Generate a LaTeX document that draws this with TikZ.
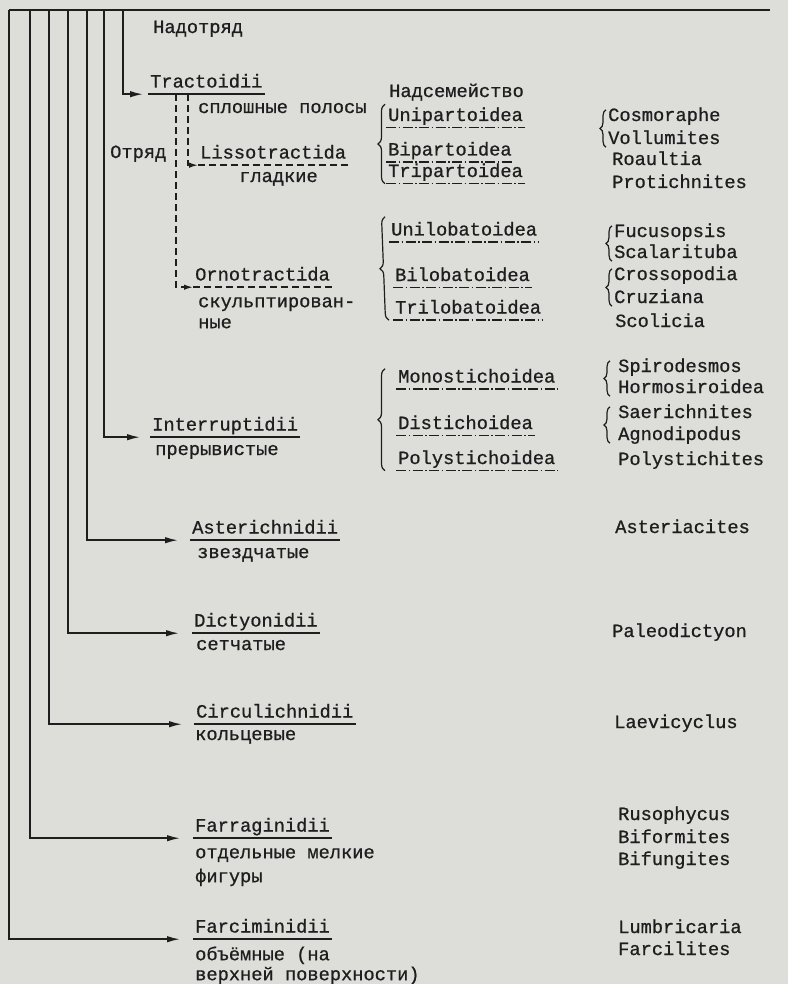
\documentclass[tikz,border=0pt]{standalone}
\usepackage{fontspec}
\setmainfont{Liberation Mono}
\newfontfamily\inkfont{Liberation Mono}[FakeBold=0.8]
\usetikzlibrary{arrows.meta, decorations.pathreplacing}
\definecolor{paper}{RGB}{221,221,217}
\definecolor{ink}{RGB}{30,30,30}

\begin{document}
\begin{tikzpicture}[x=1pt, y=-1pt,
    every node/.style={text=ink, font=\inkfont\fontsize{18.7}{23}\selectfont},
    taxon/.style={anchor=base west, inner xsep=2pt, inner ysep=0pt, text depth=6.5pt},
    rutext/.style={anchor=base west, inner sep=0pt},
    rublock/.style={anchor=north west, inner sep=0pt, align=left},
    genus/.style={anchor=base west, inner sep=0pt, text height=11pt, text depth=3pt},
    branch/.style={draw=ink, line width=1.6pt, -{Latex[length=13pt, width=6.5pt]}},
    dbranch/.style={draw=ink, line width=1.5pt, dash pattern=on 7pt off 4pt,
                    -{Latex[length=9pt, width=5.5pt]}},
    solidline/.style={draw=ink, line width=1.6pt},
    dashline/.style={draw=ink, line width=1.5pt, dash pattern=on 7pt off 4pt},
    dotline/.style={draw=ink, line width=1.5pt, dash pattern=on 10pt off 2.5pt on 1.5pt off 2.5pt},
    sbrace/.style={draw=ink, line width=1.2pt, decorate, decoration={brace, amplitude=7pt}},
    gbrace/.style={draw=ink, line width=1.2pt, decorate, decoration={brace, amplitude=6pt}}
]
\useasboundingbox (0,0) rectangle (788,984);
\fill[paper] (0,0) rectangle (788,984);

% top bar and its branch points
\foreach \x [count=\i] in {9,30,49,68,87,104,123}
  \coordinate (b\i) at (\x,10);
\coordinate (bar end) at (770,10);
\draw[solidline] (b1) -- (bar end);

% orders
\node[rutext] (supord) at (153,33) {Надотряд};
\node[taxon] (tract) at (148,87.5)  {Tractoidii};
\node[taxon] (inter) at (150,430.5) {Interruptidii};
\node[taxon] (aster) at (190,533.5) {Asterichnidii};
\node[taxon] (dict)  at (192,626.5) {Dictyonidii};
\node[taxon] (circ)  at (194,717.5) {Circulichnidii};
\node[taxon] (farr)  at (193,831.5) {Farraginidii};
\node[taxon] (farc)  at (193,932.5) {Farciminidii};

\node[rutext] (tractdesc) at (198,113) {сплошные полосы};
\node[rutext] (interdesc) at (155,455) {прерывистые};
\node[rutext] (asterdesc) at (197,558) {звездчатые};
\node[rutext] (dictdesc)  at (196,650) {сетчатые};
\node[rutext] (circdesc)  at (195,740) {кольцевые};
\node[rublock, font=\inkfont\fontsize{18.7}{24}\selectfont] (farrdesc) at (195,842)
  {\rule{0pt}{16pt}отдельные мелкие\\фигуры};
\node[rublock, font=\inkfont\fontsize{18.7}{20}\selectfont] (farcdesc) at (195,944)
  {\rule{0pt}{16pt}объёмные (на\\верхней поверхности)};

% suborders of Tractoidii
\node[rutext] (ordlab) at (110,158) {Отряд};
\node[taxon] (lisso) at (198,158.5) {Lissotractida};
\node[rutext] (lissodesc) at (239,182) {гладкие};
\node[taxon] (orno) at (193,280.5) {Ornotractida};
\node[rublock, font=\inkfont\fontsize{18.7}{21}\selectfont] (ornodesc) at (198,291)
  {\rule{0pt}{16pt}скульптирован-\\ные};

% superfamilies
\node[rutext] (supfam) at (389,97) {Надсемейство};
\node[taxon] (uni)  at (386,121)   {Unipartoidea};
\node[taxon] (bip)  at (386,155.5) {Bipartoidea};
\node[taxon] (trip) at (386,177)   {Tripartoidea};
\node[taxon] (unil) at (389,235.5) {Unilobatoidea};
\node[taxon] (bil)  at (393,281)   {Bilobatoidea};
\node[taxon] (tril) at (393,313.5) {Trilobatoidea};
\node[taxon] (mono) at (396,382.5) {Monostichoidea};
\node[taxon] (dist) at (396,429)   {Distichoidea};
\node[taxon] (poly) at (396,464)   {Polystichoidea};

% genera
\node[genus] (cosmo)   at (608,121) {Cosmoraphe};
\node[genus] (voll)    at (608,144) {Vollumites};
\node[genus] (roault)  at (612,165) {Roaultia};
\node[genus] (protich) at (612,188) {Protichnites};
\node[genus] (fucus)   at (614,237) {Fucusopsis};
\node[genus] (scal)    at (614,258) {Scalarituba};
\node[genus] (cross)   at (614,280) {Crossopodia};
\node[genus] (cruz)    at (614,303) {Cruziana};
\node[genus] (scol)    at (615,327) {Scolicia};
\node[genus] (spiro)   at (618,372) {Spirodesmos};
\node[genus] (hormo)   at (618,393) {Hormosiroidea};
\node[genus] (saer)    at (618,418) {Saerichnites};
\node[genus] (agno)    at (618,440) {Agnodipodus};
\node[genus] (polyst)  at (618,465) {Polystichites};
\node[genus] (asteriac) at (615,533) {Asteriacites};
\node[genus] (paleo)   at (612,637) {Paleodictyon};
\node[genus] (laevi)   at (614,728) {Laevicyclus};
\node[genus] (ruso)    at (618,820) {Rusophycus};
\node[genus] (bifor)   at (618,843) {Biformites};
\node[genus] (bifun)   at (618,865) {Bifungites};
\node[genus] (lumb)    at (618,933) {Lumbricaria};
\node[genus] (farcil)  at (618,955) {Farcilites};

% underlines
\foreach \n in {tract, inter, aster, dict, circ, farr, farc}
  \draw[solidline] (\n.south west) -- (\n.south east);
\foreach \n in {lisso, orno}
  \draw[dashline] (\n.south west) -- (\n.south east);
\foreach \n in {uni, bip, trip, unil, bil, tril, mono, dist, poly}
  \draw[dotline] (\n.south west) -- (\n.south east);

% branches from the top bar
\draw[branch, shorten >=5pt]  (b7) |- (tract.south west);
\draw[branch, shorten >=10pt] (b6) |- (inter.south west);
\draw[branch, shorten >=12pt] (b5) |- (aster.south west);
\draw[branch, shorten >=13pt] (b4) |- (dict.south west);
\draw[branch, shorten >=12pt] (b3) |- (circ.south west);
\draw[branch, shorten >=13pt] (b2) |- (farr.south west);
\draw[branch, shorten >=13pt] (b1) |- (farc.south west);

% dashed split of Tractoidii
\coordinate (tsplit1) at ([xshift=28pt]tract.south west);
\coordinate (tsplit2) at ([xshift=40pt]tract.south west);
\draw[dbranch] (tsplit2) |- (lisso.south west);
\draw[dbranch] (tsplit1) |- (orno.south west);

% braces
\draw[sbrace] ([xshift=-1pt]trip.south west) -- ([xshift=-1pt, yshift=3pt]uni.north west);
\draw[sbrace] ([xshift=-4pt]tril.south west) -- ([xshift=-4pt, yshift=5pt]unil.north west);
\draw[sbrace] ([xshift=-11pt]poly.south west) -- ([xshift=-11pt]mono.north west);
\draw[gbrace] ([xshift=-2pt]voll.south west) -- ([xshift=-2pt]cosmo.north west);
\draw[gbrace] ([xshift=-2pt]scal.south west) -- ([xshift=-2pt]fucus.north west);
\draw[gbrace] ([xshift=-2pt]cruz.south west) -- ([xshift=-2pt]cross.north west);
\draw[gbrace] ([xshift=-8pt]hormo.south west) -- ([xshift=-8pt]spiro.north west);
\draw[gbrace] ([xshift=-8pt]agno.south west) -- ([xshift=-8pt]saer.north west);
\end{tikzpicture}
\end{document}
